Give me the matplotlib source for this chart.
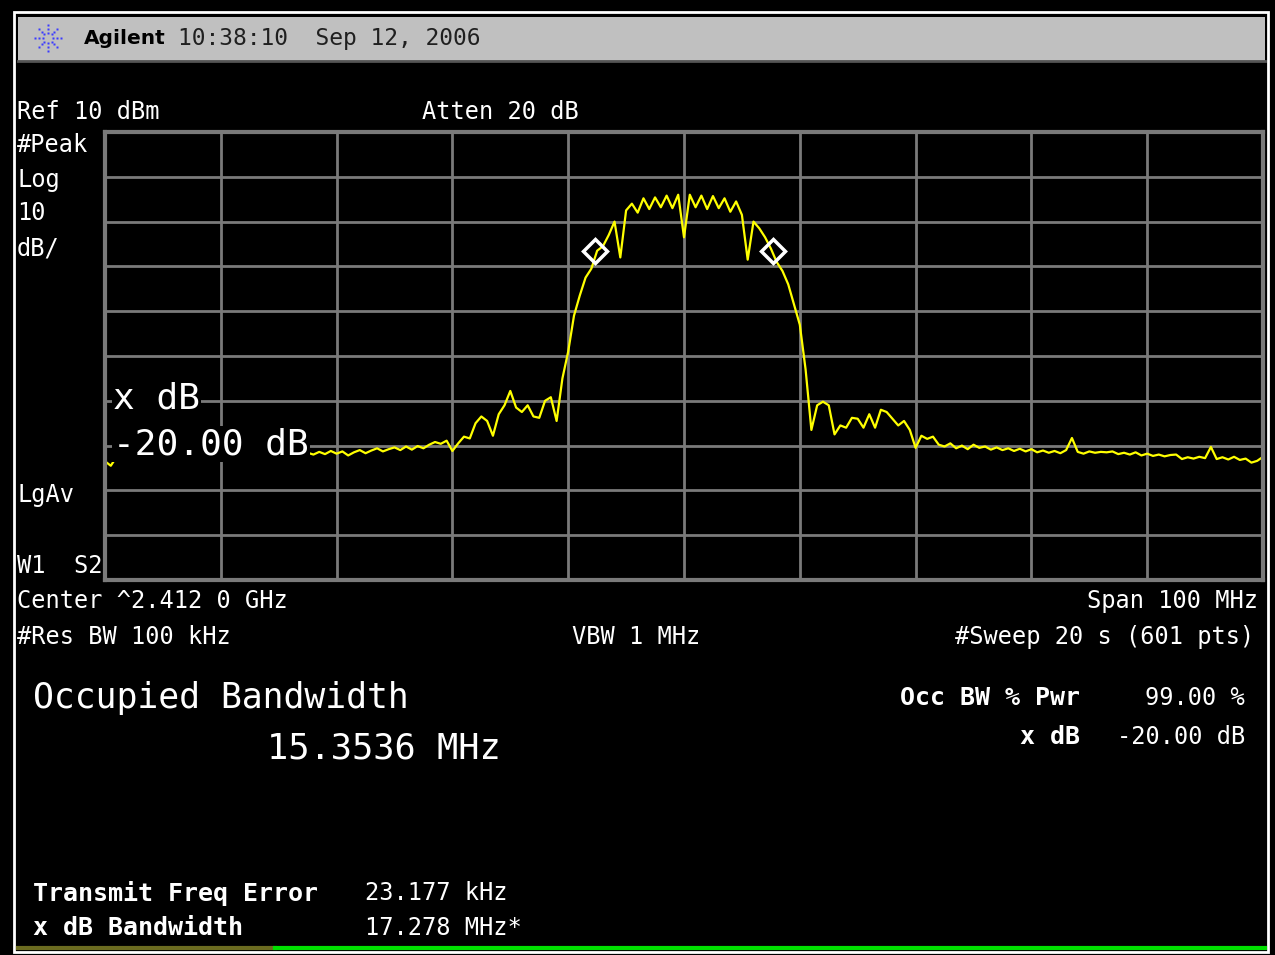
import numpy as np
import matplotlib.pyplot as plt
from matplotlib.patches import Rectangle
from matplotlib.lines import Line2D

W, H = 1275, 955

CENTER_GHZ = 2.412
SPAN_MHZ = 100
REF_DBM = 10
DB_PER_DIV = 10

# trace level in dBm, one value every 0.5 MHz from -50 to +50 MHz around center
trace_dbm = [
    -63.5, -64.5, -62.5, -62.0, -61.6, -62.3, -61.8, -62.4, -61.7, -62.1,
    -61.5, -62.2, -61.9, -62.5, -61.8, -62.0, -61.6, -62.3, -61.7, -62.0,
    -61.5, -62.2, -61.8, -62.1, -61.4, -61.9, -62.3, -61.7, -62.0, -61.6,
    -62.2, -61.8, -61.5, -62.0, -61.7, -61.6, -62.0, -61.4, -61.9, -61.2,
    -61.8, -61.3, -62.2, -61.5, -61.0, -61.7, -61.1, -60.6, -61.3, -60.8,
    -60.4, -61.0, -60.2, -60.9, -60.1, -60.6, -59.8, -59.2, -59.6, -58.9,
    -61.2, -59.5, -58.0, -58.4, -55.0, -53.5, -54.5, -57.8, -53.0, -51.0,
    -47.8, -51.5, -52.5, -51.0, -53.5, -53.8, -50.0, -49.2, -54.5, -45.0,
    -39.0, -31.0, -26.5, -22.5, -20.5, -16.5, -15.5, -13.0, -10.0, -18.0,
    -7.5, -6.0, -8.0, -4.8, -7.2, -4.6, -6.8, -4.2, -7.0, -4.0,
    -13.5, -4.0, -6.8, -4.2, -7.2, -4.3, -7.0, -4.8, -7.8, -5.5,
    -8.5, -18.5, -10.0, -11.5, -13.5, -16.0, -19.0, -21.0, -24.0, -28.5,
    -33.0, -43.0, -56.5, -51.0, -50.2, -51.0, -57.5, -55.5, -56.0, -53.8,
    -54.0, -56.0, -53.0, -56.0, -52.0, -52.5, -54.0, -55.5, -54.5, -56.5,
    -60.5, -57.8, -58.5, -58.0, -59.8, -60.2, -59.5, -60.6, -60.0, -60.8,
    -59.8, -60.5, -60.2, -60.9, -60.4, -61.0, -60.6, -61.2, -60.7, -61.3,
    -60.8, -61.5, -61.1, -61.6, -61.2, -61.7, -61.0, -58.3, -61.4, -61.8,
    -61.3, -61.6, -61.4, -61.5, -61.3, -61.9, -61.6, -62.0, -61.5, -62.2,
    -61.8, -62.3, -62.0, -62.4, -62.1, -62.0, -63.0, -62.6, -62.9, -62.5,
    -62.8, -60.3, -63.0, -62.6, -63.1, -62.5, -63.2, -62.9, -63.8, -63.4,
    -62.5,
]
# occupied bandwidth markers (offset MHz, dBm)
marker_mhz = [-7.68, 7.68]
marker_dbm = [-16.6, -16.6]

MONO = 'DejaVu Sans Mono'
GRID = '#7a7a7a'


def fx(px):
    return px / W


def fy(py):
    return 1 - py / H


fig = plt.figure(figsize=(W / 100, H / 100), dpi=100, facecolor='black')

# outer frame and header bar
fig.add_artist(Rectangle((fx(14), fy(952)), fx(1268) - fx(14), fy(12) - fy(952),
                         transform=fig.transFigure, fill=False, edgecolor='white', lw=2))
fig.add_artist(Rectangle((fx(18), fy(61)), fx(1265) - fx(18), fy(17) - fy(61),
                         transform=fig.transFigure, facecolor='#c0c0c0', edgecolor='none'))
fig.add_artist(Line2D([fx(18), fx(1265)], [fy(61), fy(61)], transform=fig.transFigure,
                      color='#555555', lw=2))

# agilent spark logo
cx, cy = 48, 38
for ang in np.arange(0, 360, 45):
    r = np.array([5, 9, 13])
    px = cx + r * np.cos(np.radians(ang))
    py = cy + r * np.sin(np.radians(ang))
    fig.add_artist(Line2D(fx(px), fy(py), transform=fig.transFigure, ls='none',
                          marker='s', ms=2.0, color='#3a3aff', mec='none'))
fig.text(fx(84), fy(38), 'Agilent', color='black', fontsize=14.5, fontweight='bold',
         family='DejaVu Sans', va='center')
fig.text(fx(178), fy(38), '10:38:10  Sep 12, 2006', color='#202020', fontsize=16.5,
         family=MONO, va='center')

# graticule
ax = fig.add_axes([fx(105), fy(580), fx(1263) - fx(105), fy(132) - fy(580)])
ax.set_facecolor('black')
freq = CENTER_GHZ * 1000 + np.linspace(-SPAN_MHZ / 2, SPAN_MHZ / 2, len(trace_dbm))
lo, hi = CENTER_GHZ * 1000 - SPAN_MHZ / 2, CENTER_GHZ * 1000 + SPAN_MHZ / 2
ax.set_xlim(lo, hi)
ax.set_ylim(REF_DBM - 10 * DB_PER_DIV, REF_DBM)
ax.set_xticks(np.linspace(lo, hi, 11))
ax.set_yticks(np.linspace(REF_DBM - 10 * DB_PER_DIV, REF_DBM, 11))
ax.tick_params(length=0, labelbottom=False, labelleft=False)
ax.grid(True, color=GRID, lw=2)
ax.set_axisbelow(True)
for s in ax.spines.values():
    s.set_color(GRID)
    s.set_linewidth(3)

ax.plot(freq, trace_dbm, color='#ffff00', lw=1.6, clip_on=False)
ax.plot(CENTER_GHZ * 1000 + np.array(marker_mhz), marker_dbm, ls='none', marker='D',
        ms=12, mfc='none', mec='white', mew=2.5)

# big annotation inside graticule
box = dict(facecolor='black', edgecolor='none', pad=1)
fig.text(fx(113), fy(398), 'x dB', color='white', fontsize=26, family=MONO,
         va='center', bbox=box, zorder=5)
fig.text(fx(113), fy(444), '-20.00 dB', color='white', fontsize=26, family=MONO,
         va='center', bbox=box, zorder=5)

# left annotations
small = dict(color='white', fontsize=17, family=MONO, va='center')
fig.text(fx(17), fy(112), 'Ref 10 dBm', **small)
fig.text(fx(422), fy(112), 'Atten 20 dB', **small)
fig.text(fx(17), fy(145), '#Peak', **small)
fig.text(fx(17), fy(180), 'Log', **small)
fig.text(fx(17), fy(213), '10', **small)
fig.text(fx(17), fy(248), 'dB/', **small)
fig.text(fx(17), fy(495), 'LgAv', **small)
fig.text(fx(17), fy(566), 'W1  S2', **small)

# bottom annotations
fig.text(fx(17), fy(601), 'Center ^2.412 0 GHz', **small)
fig.text(fx(1258), fy(601), 'Span 100 MHz', ha='right', **small)
fig.text(fx(17), fy(637), '#Res BW 100 kHz', **small)
fig.text(fx(572), fy(637), 'VBW 1 MHz', **small)
fig.text(fx(1254), fy(637), '#Sweep 20 s (601 pts)', ha='right', **small)

# measurement results
fig.text(fx(33), fy(698), 'Occupied Bandwidth', color='white', fontsize=25,
         family=MONO, va='center')
fig.text(fx(267), fy(748), '15.3536 MHz', color='white', fontsize=25.5,
         family=MONO, va='center')
bold = dict(color='white', fontsize=18, family=MONO, fontweight='bold', va='center')
fig.text(fx(1080), fy(698), 'Occ BW % Pwr', ha='right', **bold)
fig.text(fx(1080), fy(737), 'x dB', ha='right', **bold)
fig.text(fx(1245), fy(698), '99.00 %', ha='right', **small)
fig.text(fx(1245), fy(737), '-20.00 dB', ha='right', **small)
fig.text(fx(33), fy(893), 'Transmit Freq Error', **bold)
fig.text(fx(33), fy(928), 'x dB Bandwidth', **bold)
fig.text(fx(365), fy(893), '23.177 kHz', **small)
fig.text(fx(365), fy(928), '17.278 MHz*', **small)

# status line at bottom
fig.add_artist(Line2D([fx(18), fx(275)], [fy(948), fy(948)], transform=fig.transFigure,
                      color='#6b6b20', lw=3))
fig.add_artist(Line2D([fx(275), fx(1265)], [fy(948), fy(948)], transform=fig.transFigure,
                      color='#00e000', lw=3))

fig.savefig('out.png', dpi=100, facecolor='black')
